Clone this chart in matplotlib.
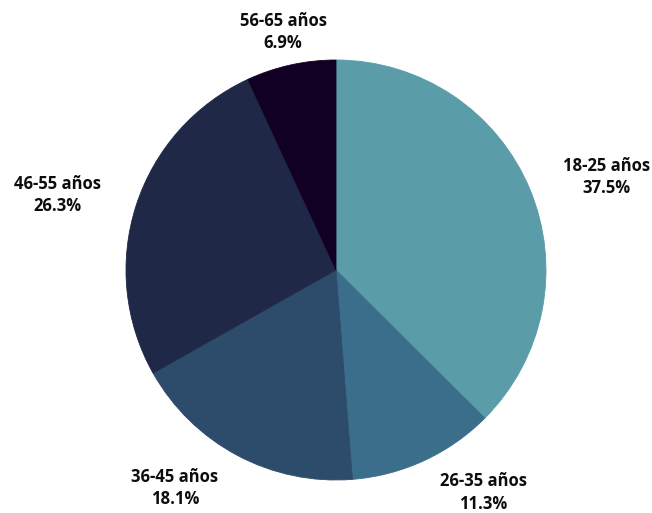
import matplotlib.pyplot as plt

plt.rcParams['font.family'] = ['Open Sans', 'DejaVu Sans']

groups = ["18-25 años", "26-35 años", "36-45 años", "46-55 años", "56-65 años"]
shares = [37.5, 11.3, 18.1, 26.3, 6.9]
colors = ["#5a9ca8", "#3b6e8a", "#2d4b6b", "#1f2847", "#120024"]

# where each label box sits, in pie-radius units
label_pos = [(1.290, 0.443), (0.700, -1.060), (-0.767, -1.038),
             (-1.326, 0.357), (-0.252, 1.133)]

fig = plt.figure(figsize=(6.52, 5.13), dpi=100)
ax = fig.add_axes([126 / 652, 33 / 513, 420 / 652, 420 / 513])

labels = [f"{g}\n{s}%" for g, s in zip(groups, shares)]
wedges, texts = ax.pie(shares, labels=labels, colors=colors, startangle=90,
                       counterclock=False,
                       wedgeprops=dict(linewidth=0.6),
                       textprops=dict(fontsize=12, fontweight='bold',
                                      fontstretch='normal',
                                      color='#0d0d0d', linespacing=1.3))
for w in wedges:
    w.set_edgecolor(w.get_facecolor())
for t, pos in zip(texts, label_pos):
    t.set_position(pos)
    t.set_ha('center')
    t.set_va('center')

ax.set_xlim(-1, 1)
ax.set_ylim(-1, 1)
ax.set_aspect('equal')

fig.savefig("out.png", dpi=100)
